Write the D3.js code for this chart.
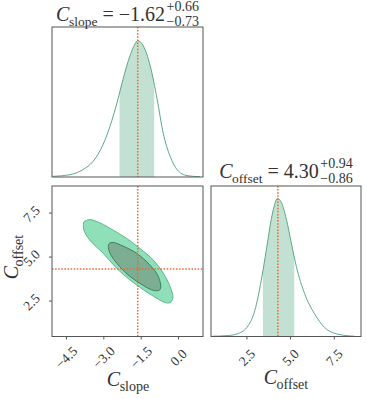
<!DOCTYPE html>
<html>
<head>
<meta charset="utf-8">
<script src="https://cdn.jsdelivr.net/npm/d3@7"></script>
<style>
  body { margin: 0; background: #fff; }
  svg { display: block; }
</style>
</head>
<body>
<div id="chart"></div>
<script>
// marginal posterior of C_slope (peak normalised to 1)
const slopeGrid = [-5.03, -4.34, -3.82, -3.41, -3.01, -2.73, -2.45, -2.21, -1.93, -1.73, -1.62, -1.40, -1.12, -0.84, -0.60, -0.32, -0.04, 0.36, 0.88];
const slopeDensity = [0.005, 0.017, 0.054, 0.115, 0.238, 0.373, 0.545, 0.717, 0.889, 0.975, 1.0, 0.963, 0.816, 0.570, 0.324, 0.152, 0.054, 0.010, 0.002];
// marginal posterior of C_offset (right panel)
const offsetGrid = [0.55, 1.46, 2.03, 2.60, 2.98, 3.35, 3.64, 3.92, 4.12, 4.27, 4.50, 4.79, 5.07, 5.36, 5.83, 6.40, 6.97, 7.73, 8.68];
const offsetDensity = [0.002, 0.007, 0.022, 0.078, 0.188, 0.408, 0.628, 0.848, 0.958, 1.0, 0.971, 0.848, 0.677, 0.506, 0.311, 0.164, 0.066, 0.017, 0.002];
// 2D contours (outer = 95%, inner = 68%)
const outerSlope = [-3.78, -3.54, -3.13, -2.60, -2.06, -1.53, -0.99, -0.59, -0.32, -0.21, -0.32, -0.52, -0.86, -1.39, -1.93, -2.46, -3.00, -3.54, -3.78, -3.80];
const outerOffset = [6.97, 7.10, 6.91, 6.50, 6.03, 5.46, 4.80, 4.05, 3.29, 2.64, 2.39, 2.39, 2.64, 3.11, 3.67, 4.33, 5.18, 5.93, 6.50, 6.84];
const innerSlope = [-2.76, -2.60, -2.20, -1.66, -1.13, -0.79, -0.70, -0.79, -1.06, -1.53, -2.00, -2.46, -2.73, -2.80];
const innerOffset = [5.75, 5.80, 5.59, 5.18, 4.52, 3.86, 3.20, 3.07, 3.11, 3.48, 3.95, 4.62, 5.18, 5.59];
// summary statistics
const slopeStats = {median: -1.62, plus: 0.66, minus: 0.73};
const offsetStats = {median: 4.30, plus: 0.94, minus: 0.86};
const slopeTicks = [-4.5, -3.0, -1.5, 0.0];
const offsetTicks = [2.5, 5.0, 7.5];

(function(){
    const W = 366, H = 399;
    const serif = "'Liberation Serif', 'DejaVu Serif', serif";
    const textCol = "#333";
    const lineCol = "#5aaa82", shadeCol = "#c3e1d2";
    const outerFill = "#8fe0b9", outerEdge = "#5cb98c";
    const innerFill = "#7cae94", innerEdge = "#3f7d5e";
    const markCol = "#f26430", frameCol = "#555";

    const svg = d3.select("#chart").append("svg").attr("width", W).attr("height", H);

    //panel boxes
    const L = {x0: 52, x1: 203}, R = {x0: 211, x1: 361};
    const T = {y0: 27, y1: 177}, B = {y0: 186, y1: 336.5};

    const xs = d3.scaleLinear().domain([-5.06, 1.0]).range([L.x0, L.x1]);
    const yo = d3.scaleLinear().domain([0.46, 9.01]).range([B.y1, B.y0]);
    const xo = d3.scaleLinear().domain([0.47, 9.06]).range([R.x0, R.x1]);
    const yTop = d3.scaleLinear().domain([0, 1.1]).range([T.y1, T.y0]);
    const yRight = d3.scaleLinear().domain([0, 1.09]).range([B.y1, B.y0]);

    const fmt = d3.format(".1f");
    const minus = s => s.replace("-", "\u2212");

    function marginal(grid, dens, x, y, stats, box, id){
        let pts = grid.map((g, i) => [g, dens[i]]);
        let lo = stats.median - stats.minus, hi = stats.median + stats.plus;
        svg.append("clipPath").attr("id", id)
            .append("rect").attr("x", x(lo)).attr("y", box.y0)
            .attr("width", x(hi) - x(lo)).attr("height", box.y1 - box.y0);
        let inner = svg.append("g").attr("clip-path", "url(#" + id + "box)");
        svg.append("clipPath").attr("id", id + "box")
            .append("rect").attr("x", box.x0).attr("y", box.y0)
            .attr("width", box.x1 - box.x0).attr("height", box.y1 - box.y0);
        inner.append("path").datum(pts)
            .attr("clip-path", "url(#" + id + ")")
            .attr("fill", shadeCol)
            .attr("d", d3.area().curve(d3.curveMonotoneX)
                .x(d => x(d[0])).y0(y(0)).y1(d => y(d[1])));
        inner.append("path").datum(pts)
            .attr("fill", "none").attr("stroke", lineCol).attr("stroke-width", 1)
            .attr("d", d3.line().curve(d3.curveMonotoneX)
                .x(d => x(d[0])).y(d => y(d[1])));
        inner.append("line")
            .attr("x1", x(stats.median)).attr("x2", x(stats.median))
            .attr("y1", box.y0).attr("y2", box.y1)
            .attr("stroke", markCol).attr("stroke-width", 1.5).attr("stroke-dasharray", "1.5,1.6");
    }

    function frame(box){
        svg.append("rect").attr("x", box.x0).attr("y", box.y0)
            .attr("width", box.x1 - box.x0).attr("height", box.y1 - box.y0)
            .attr("fill", "none").attr("stroke", frameCol).attr("stroke-width", 1);
    }

    //math-like label: C_sub [rest] with optional stacked sup/sub
    function mathLabel(g, sub, big, small, rest, up, down){
        let t = g.append("text").attr("font-family", serif).attr("fill", textCol);
        t.append("tspan").attr("font-style", "italic").attr("font-size", big).text("C");
        t.append("tspan").attr("font-size", small).attr("dx", -0.5).attr("dy", big * 0.24).text(sub);
        if (rest) t.append("tspan").attr("font-size", big).attr("dy", -big * 0.24).text(rest);
        let w = t.node().getComputedTextLength();
        if (up){
            g.append("text").attr("font-family", serif).attr("fill", textCol).attr("font-size", small + 0.5)
                .attr("x", w + 1).attr("y", -big * 0.5).text(up);
            g.append("text").attr("font-family", serif).attr("fill", textCol).attr("font-size", small + 0.5)
                .attr("x", w + 1).attr("y", big * 0.26).text(down);
        }
        return g;
    }
    function centred(g, cx){
        let bb = g.node().getBBox();
        return cx - bb.x - bb.width / 2;
    }

    // top-left marginal
    marginal(slopeGrid, slopeDensity, xs, yTop, slopeStats, {x0: L.x0, x1: L.x1, y0: T.y0, y1: T.y1}, "clipS");
    frame({x0: L.x0, x1: L.x1, y0: T.y0, y1: T.y1});

    // bottom-right marginal
    marginal(offsetGrid, offsetDensity, xo, yRight, offsetStats, {x0: R.x0, x1: R.x1, y0: B.y0, y1: B.y1}, "clipO");
    frame({x0: R.x0, x1: R.x1, y0: B.y0, y1: B.y1});

    // 2D panel
    const contour = d3.line().curve(d3.curveCatmullRomClosed.alpha(0.5)).x(d => xs(d[0])).y(d => yo(d[1]));
    svg.append("path").datum(outerSlope.map((v, i) => [v, outerOffset[i]]))
        .attr("fill", outerFill).attr("stroke", outerEdge).attr("stroke-width", 1).attr("d", contour);
    svg.append("path").datum(innerSlope.map((v, i) => [v, innerOffset[i]]))
        .attr("fill", innerFill).attr("stroke", innerEdge).attr("stroke-width", 1).attr("d", contour);
    svg.append("line")
        .attr("x1", xs(slopeStats.median)).attr("x2", xs(slopeStats.median))
        .attr("y1", B.y0).attr("y2", B.y1)
        .attr("stroke", markCol).attr("stroke-width", 1.5).attr("stroke-dasharray", "1.5,1.6");
    svg.append("line")
        .attr("x1", L.x0).attr("x2", L.x1)
        .attr("y1", yo(offsetStats.median)).attr("y2", yo(offsetStats.median))
        .attr("stroke", markCol).attr("stroke-width", 1.5).attr("stroke-dasharray", "1.5,1.6");
    frame({x0: L.x0, x1: L.x1, y0: B.y0, y1: B.y1});

    // axes with rotated tick labels
    let ax = svg.append("g").attr("transform", "translate(0," + B.y1 + ")")
        .call(d3.axisBottom(xs).tickValues(slopeTicks).tickSize(3).tickFormat(d => minus(fmt(d))));
    let ax2 = svg.append("g").attr("transform", "translate(0," + B.y1 + ")")
        .call(d3.axisBottom(xo).tickValues(offsetTicks).tickSize(3).tickFormat(fmt));
    let ay = svg.append("g").attr("transform", "translate(" + L.x0 + ",0)")
        .call(d3.axisLeft(yo).tickValues(offsetTicks).tickSize(3).tickFormat(fmt));
    [ax, ax2, ay].forEach(function(a){
        a.select(".domain").remove();
        a.selectAll(".tick line").attr("stroke", frameCol);
        a.selectAll(".tick text").attr("font-family", serif).attr("font-size", 13.5).attr("fill", textCol);
    });
    [ax, ax2].forEach(function(a){
        a.selectAll(".tick text")
            .attr("y", 0).attr("dy", null)
            .attr("text-anchor", "middle").attr("dominant-baseline", "central")
            .attr("transform", "translate(0,21) rotate(-45)");
    });
    ay.selectAll(".tick text")
        .attr("x", 0).attr("dy", null)
        .attr("text-anchor", "middle").attr("dominant-baseline", "central")
        .attr("transform", "translate(-20.5,1) rotate(-45)");

    // titles, centred over their panels
    let t1 = mathLabel(svg.append("g"), "slope", 20, 13.5, " = \u22121.62", "+0.66", "\u22120.73");
    t1.attr("transform", "translate(" + centred(t1, (L.x0 + L.x1) / 2) + ",21)");
    let t2 = mathLabel(svg.append("g"), "offset", 20, 13.5, " = 4.30", "+0.94", "\u22120.86");
    t2.attr("transform", "translate(" + centred(t2, (R.x0 + R.x1) / 2) + ",178)");

    // axis labels, centred
    let xl = mathLabel(svg.append("g"), "slope", 20, 14);
    xl.attr("transform", "translate(" + centred(xl, 128) + ",386)");
    let xl2 = mathLabel(svg.append("g"), "offset", 20, 14);
    xl2.attr("transform", "translate(" + centred(xl2, 286) + ",384)");
    let yl = mathLabel(svg.append("g"), "offset", 20, 14);
    let ybb = yl.node().getBBox();
    yl.attr("transform", "translate(18," + (257 + ybb.width / 2) + ") rotate(-90)");
})();
</script>
</body>
</html>
